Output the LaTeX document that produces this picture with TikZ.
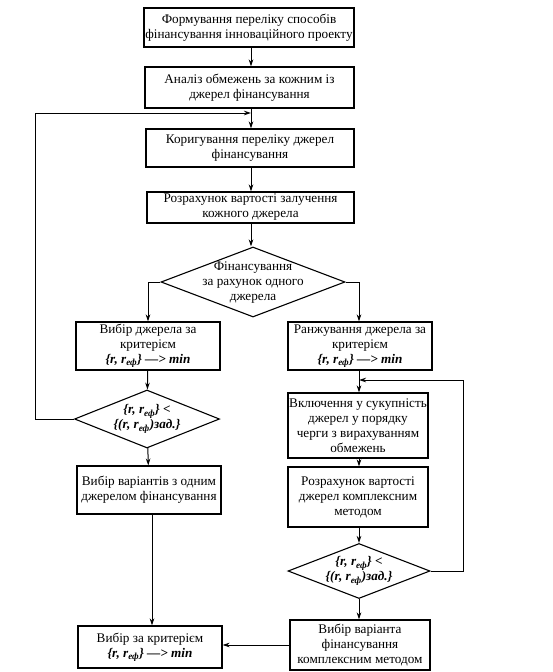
\documentclass[tikz,border=0pt]{standalone}
\usepackage{fontspec}
\setmainfont{Liberation Serif}
\usetikzlibrary{shapes.geometric,arrows.meta}
\newcommand{\crit}{\textbf{\textit{\{r, r\textsubscript{еф}\} —> min}}}
\newcommand{\cmpA}{\textbf{\textit{\{r, r\textsubscript{еф}\} <}}}
\newcommand{\cmpB}{\textbf{\textit{\{(r, r\textsubscript{еф})зад.\}}}}
\begin{document}
\begin{tikzpicture}[x=1pt,y=-1pt,
  every node/.style={font=\fontsize{13.2}{15}\selectfont},
  blk/.style={draw,line width=1.1pt,align=center,inner sep=1pt},
  dia/.style={draw,diamond,line width=1.1pt,inner sep=0pt},
  dtxt/.style={align=center,inner sep=0pt},
  arr/.style={line width=1pt,-{Stealth[length=7pt,width=4.5pt]}},
  ln/.style={line width=1pt}]
\useasboundingbox (0,0) rectangle (552,672);
% main column
\node[blk,minimum width=210pt,minimum height=39pt] (b1) at (249,27.5) {Формування переліку способів\\фінансування інноваційного проекту};
\node[blk,minimum width=209pt,minimum height=41pt] (b2) at (249.5,87.5) {Аналіз обмежень за кожним із\\джерел фінансування};
\node[blk,minimum width=208pt,minimum height=38pt] (b3) at (250,148) {Коригування переліку джерел\\фінансування};
\node[blk,minimum width=207pt,minimum height=31pt] (b4) at (250.5,207.5) {Розрахунок вартості залучення\\кожного джерела};
\node[dia,minimum width=184pt,minimum height=70pt] (d1) at (253,282) {};
\node[dtxt] (t1) at (253,283) {Фінансування\\за рахунок одного\\джерела};
% left column
\node[blk,minimum width=144pt,minimum height=48pt] (b5) at (148,346) {Вибір джерела за\\критерієм\\\crit};
\node[dia,minimum width=145pt,minimum height=58pt] (d2) at (147,419) {};
\node[dtxt] (t2) at (147,419) {\cmpA\\\cmpB};
\node[blk,minimum width=144pt,minimum height=48pt] (b7) at (149,490) {Вибір варіантів з одним\\джерелом фінансування};
\node[blk,minimum width=144pt,minimum height=42pt] (b11) at (150,647) {Вибір за критерієм\\\crit};
% right column
\node[blk,minimum width=144pt,minimum height=48pt] (b6) at (360,346) {Ранжування джерела за\\критерієм\\\crit};
\node[blk,minimum width=140pt,minimum height=65pt] (b8) at (358,425.5) {Включення у сукупність\\джерел у порядку\\черги з вирахуванням\\обмежень};
\node[blk,minimum width=140pt,minimum height=60pt] (b9) at (358,497) {Розрахунок вартості\\джерел комплексним\\методом};
\node[dia,minimum width=142pt,minimum height=55pt] (d3) at (359,571) {};
\node[dtxt] (t3) at (359,571) {\cmpA\\\cmpB};
\node[blk,minimum width=140pt,minimum height=50pt] (b10) at (360,645) {Вибір варіанта\\фінансування\\комплексним методом};
% junctions
\coordinate (j1) at (251,113);
\coordinate (L) at (35,113);
\coordinate (j2) at (359,380);
\coordinate (R) at (463,380);
% connectors
\draw[arr] (b1.south -| 251,0) -- (b2.north -| 251,0);
\draw[arr] (b2.south -| 251,0) -- (b3.north -| 251,0);
\draw[arr] (b3.south -| 251,0) -- (b4.north -| 251,0);
\draw[arr] (b4.south -| 251,0) -- (d1.north -| 251,0);
\draw[arr] (d1.west) -| (b5.north);
\draw[arr] (d1.east) -| (b6.north -| j2);
\draw[arr] (b5) -- (d2);
\draw[arr] (d2) -- (b7);
\draw[arr] (b7.south -| 152,0) -- (b11.north -| 152,0);
\draw[ln] (d2.west) -| (L);
\draw[arr] (L) -- (j1);
\draw[arr] (b6.south -| j2) -- (b8.north -| j2);
\draw[arr] (b8.south -| j2) -- (b9.north -| j2);
\draw[arr] (b9.south -| j2) -- (d3.north -| j2);
\draw[arr] (d3.south -| j2) -- (b10.north -| j2);
\draw[ln] (d3.east) -| (R);
\draw[arr] (R) -- (j2);
\draw[arr] (b10.west |- 0,645) -- (b11.east |- 0,645);
\end{tikzpicture}
\end{document}
